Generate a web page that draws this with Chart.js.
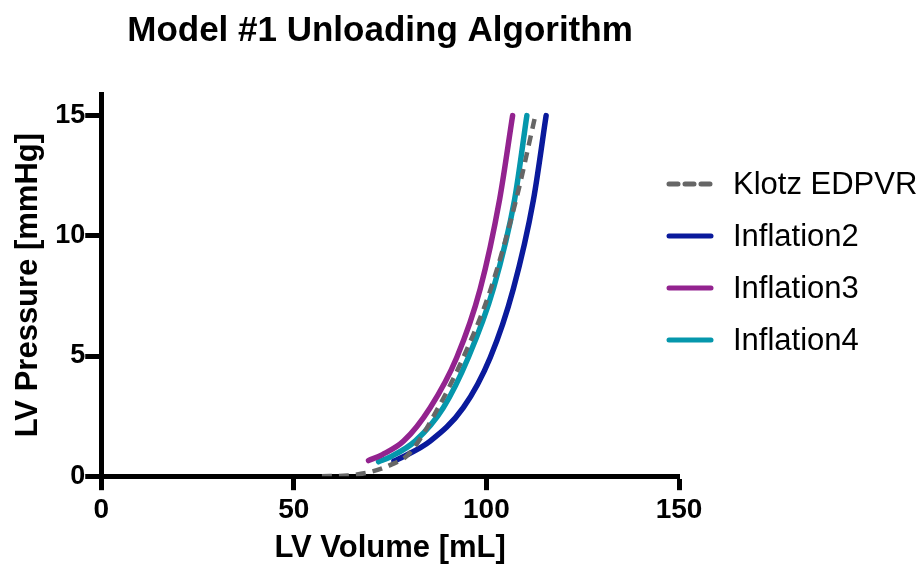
<!DOCTYPE html>
<html>
<head>
<meta charset="utf-8">
<script src="https://cdn.jsdelivr.net/npm/chart.js@4"></script>
<style>
  body { margin: 0; background: #fff; }
  #wrap { width: 921px; height: 567px; }
</style>
</head>
<body>
<div id="wrap"><canvas id="chart" width="921" height="567"></canvas></div>
<script>
// values (LV volume mL, LV pressure mmHg)
const klotzV = [57.3, 64, 70, 75, 80, 87.5, 94, 101, 107.7, 112.7];
const klotzP = [0, 0.03, 0.18, 0.46, 0.95, 2.85, 4.94, 7.73, 11.49, 15];
const infl2V = [76, 78, 85.4, 94, 101, 107, 112.2, 115.5];
const infl2P = [0.63, 0.78, 1.46, 2.85, 4.94, 7.8, 11.49, 15];
const infl3V = [69.4, 73, 78.5, 85.4, 92.3, 98.4, 103.4, 106.8];
const infl3P = [0.65, 0.9, 1.46, 2.85, 4.94, 7.8, 11.49, 15];
const infl4V = [72, 75, 81.5, 88.8, 95.3, 101.8, 107.3, 110.5];
const infl4P = [0.6, 0.8, 1.46, 2.85, 4.94, 7.8, 11.49, 15];
const xTicks = [0, 50, 100, 150];
const yTicks = [0, 5, 10, 15];
const chartTitle = "Model #1 Unloading Algorithm";

function pts(xs, ys) {
    return xs.map((x, i) => ({ x: x, y: ys[i] }));
}

const FONT = "'Liberation Sans', Arial, sans-serif";

// title + legend drawn by hand, the original sits off-centre
const decor = {
    id: "decor",
    afterDraw(chart) {
        const ctx = chart.ctx;
        ctx.save();
        ctx.fillStyle = "#000";
        ctx.font = "bold 35px " + FONT;
        ctx.textAlign = "center";
        ctx.textBaseline = "middle";
        ctx.fillText(chartTitle, 380, 31);

        const rows = [184, 236, 288, 340];
        ctx.textAlign = "left";
        chart.data.datasets.forEach((ds, i) => {
            const y = rows[i];
            ctx.beginPath();
            ctx.strokeStyle = ds.borderColor;
            ctx.lineWidth = 5;
            ctx.lineCap = "round";
            ctx.setLineDash(ds.borderDash ? [9, 7] : []);
            ctx.moveTo(669, y);
            ctx.lineTo(711, y);
            ctx.stroke();
            ctx.setLineDash([]);
            ctx.font = "31px " + FONT;
            ctx.fillText(ds.label, 733, y + 1);
        });
        ctx.restore();
    }
};

const common = { showLine: true, pointRadius: 0, borderWidth: 5.5, fill: false,
                 cubicInterpolationMode: "monotone", borderCapStyle: "round" };

const chart = new Chart(document.getElementById("chart").getContext("2d"), {
    type: "scatter",
    data: {
        datasets: [
            Object.assign({ label: "Klotz EDPVR", data: pts(klotzV, klotzP), borderColor: "#666666",
                borderDash: [10, 7] }, common, { borderWidth: 4.5, borderCapStyle: "butt" }),
            Object.assign({ label: "Inflation2", data: pts(infl2V, infl2P), borderColor: "#0A1A9C" }, common),
            Object.assign({ label: "Inflation3", data: pts(infl3V, infl3P), borderColor: "#93238F" }, common),
            Object.assign({ label: "Inflation4", data: pts(infl4V, infl4P), borderColor: "#0597AC" }, common),
        ],
    },
    options: {
        responsive: false,
        animation: false,
        layout: { padding: { left: 10, right: 242, top: 94, bottom: 0 } },
        plugins: {
            legend: { display: false },
            tooltip: { enabled: false },
            title: { display: false },
        },
        scales: {
            x: {
                type: "linear",
                min: 0,
                max: 150,
                afterBuildTicks: (s) => { s.ticks = xTicks.map(v => ({ value: v })); },
                border: { display: true, color: "#000", width: 5 },
                grid: { drawOnChartArea: false, drawTicks: true, tickLength: 14, tickWidth: 5, tickColor: "#000" },
                ticks: { color: "#000", padding: 3, font: { family: FONT, size: 28, weight: "bold" } },
                title: { display: true, text: "LV Volume [mL]", color: "#000", padding: { top: 0, bottom: 0 },
                         font: { family: FONT, size: 31, weight: "bold" } },
            },
            y: {
                type: "linear",
                min: 0,
                max: 15.9,
                afterBuildTicks: (s) => { s.ticks = yTicks.map(v => ({ value: v })); },
                border: { display: true, color: "#000", width: 5 },
                grid: { drawOnChartArea: false, drawTicks: true, tickLength: 16, tickWidth: 5, tickColor: "#000" },
                ticks: { color: "#000", padding: 0, font: { family: FONT, size: 27, weight: "bold" } },
                title: { display: true, text: "LV Pressure [mmHg]", color: "#000", padding: { top: 0, bottom: 8 },
                         font: { family: FONT, size: 31, weight: "bold" } },
            },
        },
    },
    plugins: [decor],
});
</script>
</body>
</html>
